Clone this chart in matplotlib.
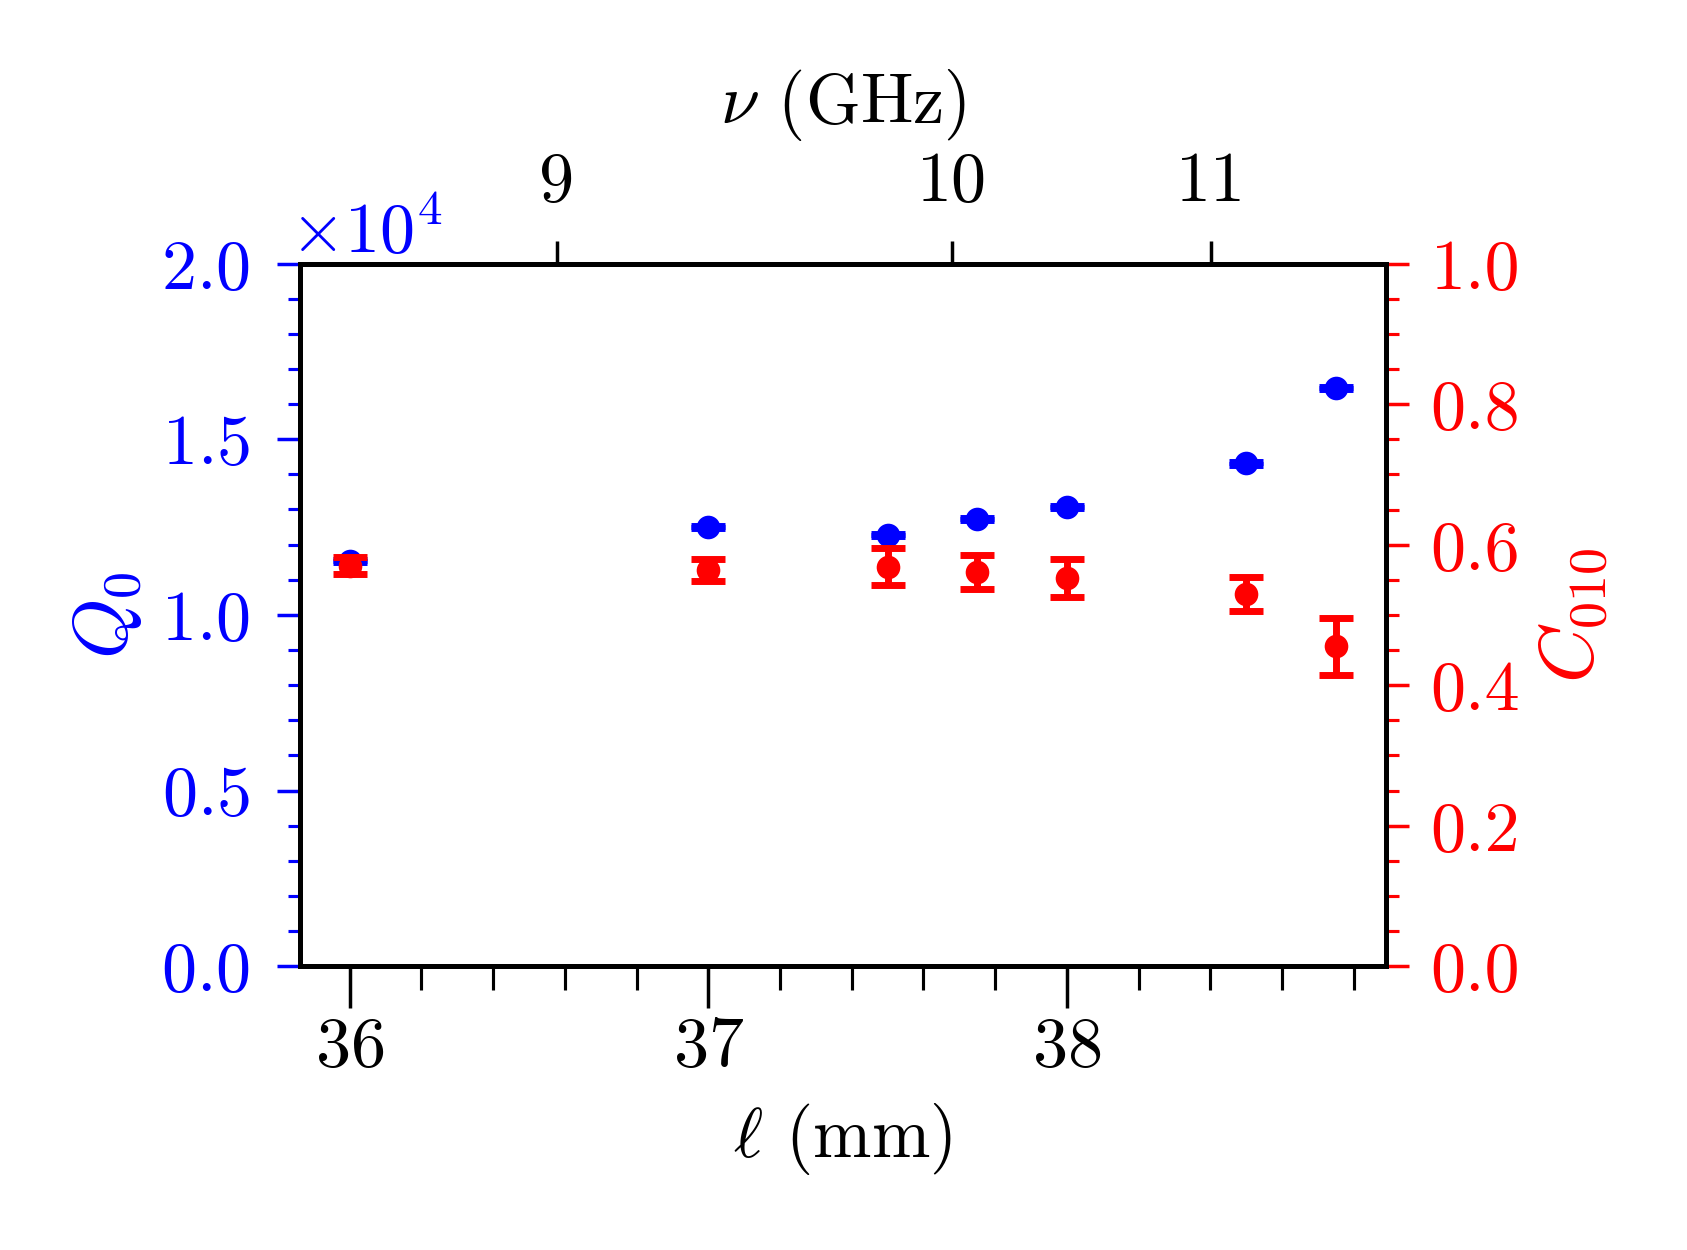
import matplotlib
matplotlib.use("Agg")
import matplotlib.pyplot as plt
import matplotlib.transforms as mtransforms
from matplotlib.ticker import MultipleLocator, ScalarFormatter, FixedLocator

plt.rcParams['font.family'] = 'serif'
plt.rcParams['font.serif'] = ['cmr10']
plt.rcParams['mathtext.fontset'] = 'cm'
plt.rcParams['axes.unicode_minus'] = False
plt.rcParams['axes.formatter.use_mathtext'] = True

# Data
length_mm = [36.0, 37.0, 37.5, 37.75, 38.0, 38.5, 38.75]
q0 = [11530, 12510, 12270, 12720, 13080, 14310, 16450]
q0_err = [30, 30, 30, 30, 30, 30, 30]
c010 = [0.570, 0.564, 0.5685, 0.561, 0.553, 0.530, 0.455]
c010_err = [0.012, 0.016, 0.026, 0.024, 0.027, 0.024, 0.040]

freq_tick_labels = ['9', '10', '11']
freq_tick_pos_mm = [36.577, 37.679, 38.403]

FS = 20.2

fig = plt.figure(figsize=(6.748, 5.0), dpi=250)
ax = fig.add_axes([0.1778, 0.2271, 0.8213 - 0.1778, 0.7891 - 0.2271])

ax.errorbar(length_mm, q0, yerr=q0_err, fmt='o', color='blue', ms=5.8,
            capsize=4.8, capthick=2.0, elinewidth=2.0, zorder=3)
ax.set_xlim(35.861, 38.889)
ax.set_ylim(0, 20000)
ax.yaxis.set_major_locator(MultipleLocator(5000))
ax.yaxis.set_minor_locator(MultipleLocator(1000))
ax.xaxis.set_major_locator(MultipleLocator(1))
ax.xaxis.set_minor_locator(MultipleLocator(0.2))
fmt = ScalarFormatter(useMathText=True)
fmt.set_powerlimits((0, 0))
ax.yaxis.set_major_formatter(fmt)
off = ax.yaxis.get_offset_text()
off.set_color('blue')
off.set_fontsize(FS)
off.set_transform(off.get_transform() + mtransforms.Affine2D().translate(-10, 0))

ax.tick_params(axis='y', which='both', colors='blue', labelcolor='blue', direction='out')
ax.tick_params(axis='y', which='major', length=6.5, width=1.0, labelsize=FS, pad=8)
ax.tick_params(axis='y', which='minor', length=3.6, width=0.9)
ax.tick_params(axis='x', which='both', colors='black', direction='out')
ax.tick_params(axis='x', which='major', length=12, width=1.0, labelsize=FS, pad=2.5)
ax.tick_params(axis='x', which='minor', length=7, width=0.9)

ax.set_xlabel(r'$\ell$ (mm)', fontsize=FS, labelpad=6)
ax.set_ylabel(r'$Q_0$', fontsize=FS + 2, color='blue', labelpad=5)

for sp in ax.spines.values():
    sp.set_linewidth(1.4)

ax2 = ax.twinx()
ax2.errorbar(length_mm, c010, yerr=c010_err, fmt='o', color='red', ms=5.8,
             capsize=4.8, capthick=2.0, elinewidth=2.0, zorder=3)
ax2.set_ylim(0, 1.0)
ax2.yaxis.set_major_locator(MultipleLocator(0.2))
ax2.yaxis.set_minor_locator(MultipleLocator(0.05))
ax2.yaxis.set_major_formatter(plt.FuncFormatter(lambda v, p: f'{v:.1f}'))
ax2.tick_params(axis='y', which='both', colors='red', labelcolor='red', direction='out')
ax2.tick_params(axis='y', which='major', length=6.5, width=1.0, labelsize=FS, pad=6.5)
ax2.tick_params(axis='y', which='minor', length=3.6, width=0.9)
ax2.set_ylabel(r'$C_{010}$', fontsize=FS + 2, color='red', labelpad=5)
for sp in ax2.spines.values():
    sp.set_linewidth(1.4)

ax3 = ax.twiny()
ax3.set_xlim(ax.get_xlim())
ax3.xaxis.set_major_locator(FixedLocator(freq_tick_pos_mm))
ax3.set_xticklabels(freq_tick_labels)
ax3.tick_params(axis='x', which='major', direction='out', length=6.5, width=1.0,
                labelsize=FS, pad=7.5)
ax3.set_xlabel(r'$\nu$ (GHz)', fontsize=FS, labelpad=8)
for sp in ax3.spines.values():
    sp.set_linewidth(1.4)

fig.savefig('out.png', dpi=250)
